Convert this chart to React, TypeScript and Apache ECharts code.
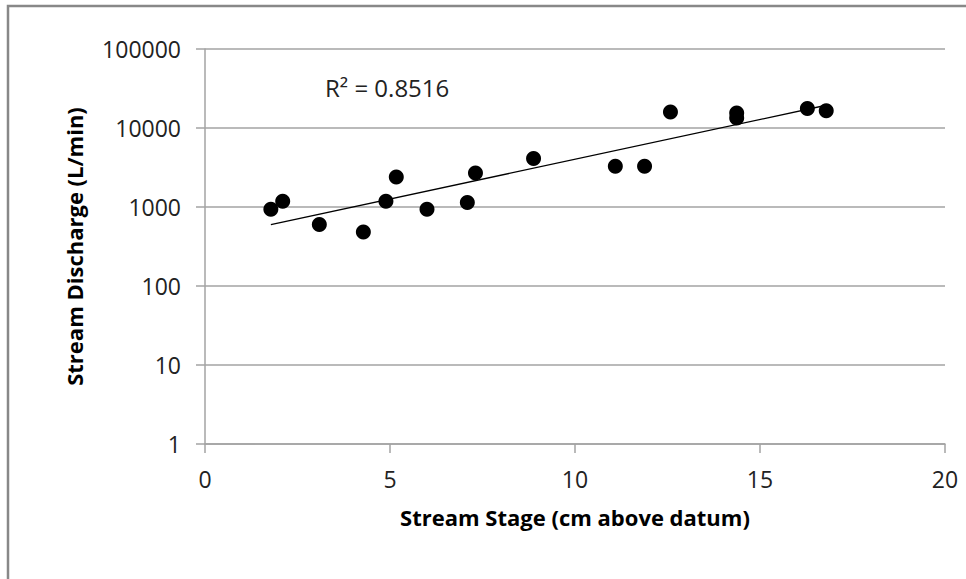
import React, { useEffect, useRef } from "react";
import * as echarts from "echarts";

// Stream stage (cm above datum) and measured discharge (L/min)
const stage = [1.78, 2.1, 3.09, 4.28, 4.89, 5.17, 6.0, 7.09, 7.31, 8.88, 11.09, 11.88, 12.58, 14.37, 14.37, 16.28, 16.79];
const discharge = [935, 1180, 600, 482, 1180, 2400, 935, 1137, 2700, 4100, 3280, 3280, 15960, 15490, 13390, 17710, 16570];

const xTicks = [0, 5, 10, 15, 20];
const yTicks = [1, 10, 100, 1000, 10000, 100000];
const R_SQUARED = 0.8516;

// Exponential least-squares fit (linear regression on log10 of discharge)
function expFit(xs: number[], ys: number[]) {
  const n = xs.length;
  const ly = ys.map((v) => Math.log10(v));
  const mx = xs.reduce((a, b) => a + b, 0) / n;
  const my = ly.reduce((a, b) => a + b, 0) / n;
  let sxy = 0;
  let sxx = 0;
  for (let i = 0; i < n; i++) {
    sxy += (xs[i] - mx) * (ly[i] - my);
    sxx += (xs[i] - mx) ** 2;
  }
  const slope = sxy / sxx;
  const intercept = my - slope * mx;
  return (x: number) => Math.pow(10, intercept + slope * x);
}

export default function App() {
  const ref = useRef<HTMLDivElement>(null);

  useEffect(() => {
    if (!ref.current) return;
    const chart = echarts.init(ref.current, null, { renderer: "svg" });
    const fit = expFit(stage, discharge);
    const xMin = Math.min(...stage);
    const xMax = Math.max(...stage);
    const gridColor = "#a3a3a3";
    const font = "'Open Sans', 'Noto Sans', sans-serif";

    chart.setOption({
      animation: false,
      backgroundColor: "#ffffff",
      textStyle: { fontFamily: font },
      grid: { left: 205, right: 21, top: 49, bottom: 135, containLabel: false },
      xAxis: {
        type: "value",
        min: xTicks[0],
        max: xTicks[xTicks.length - 1],
        interval: 5,
        name: "Stream Stage (cm above datum)",
        nameLocation: "middle",
        nameGap: 62,
        nameTextStyle: { fontFamily: font, fontWeight: "bold", fontSize: 22, color: "#000" },
        axisLine: { show: true, lineStyle: { color: gridColor, width: 1.5 } },
        axisTick: { show: true, inside: false, length: 9, lineStyle: { color: gridColor, width: 1.5 } },
        axisLabel: { fontFamily: font, fontSize: 23, color: "#222", margin: 23 },
        splitLine: { show: false },
      },
      yAxis: {
        type: "log",
        logBase: 10,
        min: yTicks[0],
        max: yTicks[yTicks.length - 1],
        name: "Stream Discharge (L/min)",
        nameLocation: "middle",
        nameGap: 120,
        nameTextStyle: { fontFamily: font, fontWeight: "bold", fontSize: 22, color: "#000" },
        axisLine: { show: true, lineStyle: { color: gridColor, width: 1.5 } },
        axisTick: { show: true, inside: false, length: 9, lineStyle: { color: gridColor, width: 1.5 } },
        axisLabel: {
          fontFamily: font,
          fontSize: 23,
          color: "#222",
          margin: 24,
          formatter: (v: number) => String(Math.round(v)),
        },
        splitLine: { show: true, lineStyle: { color: gridColor, width: 1.5 } },
      },
      graphic: [
        {
          type: "rect",
          shape: { x: 8, y: 6, width: 1200, height: 1200 },
          style: { fill: "none", stroke: "#888888", lineWidth: 2.5 },
          silent: true,
          z: -1,
        },
        {
          type: "text",
          left: 325,
          top: 75,
          style: {
            text: `R² = ${R_SQUARED.toFixed(4)}`,
            fontFamily: font,
            fontSize: 24,
            fill: "#222",
          },
        },
      ],
      series: [
        {
          type: "line",
          data: [
            [xMin, fit(xMin)],
            [xMax, fit(xMax)],
          ],
          showSymbol: false,
          symbol: "none",
          lineStyle: { color: "#000", width: 1.3 },
          z: 1,
        },
        {
          type: "scatter",
          data: stage.map((x, i) => [x, discharge[i]]),
          symbol: "circle",
          symbolSize: 15,
          itemStyle: { color: "#000", opacity: 1 },
          z: 2,
        },
      ],
    });

    return () => chart.dispose();
  }, []);

  return (
    <div
      ref={ref}
      style={{ position: "fixed", left: 0, top: 0, width: 966, height: 579, background: "#fff" }}
    />
  );
}
